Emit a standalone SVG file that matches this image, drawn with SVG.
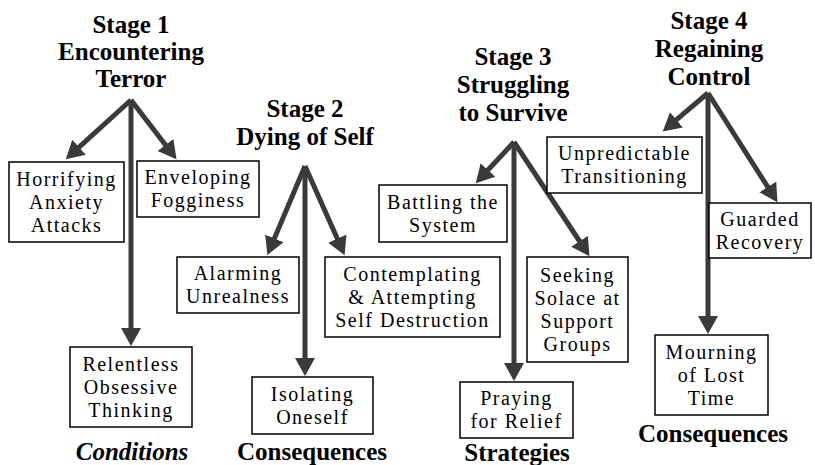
<svg xmlns="http://www.w3.org/2000/svg" width="815" height="465" viewBox="0 0 815 465">
<defs>
<marker id="ah" markerUnits="userSpaceOnUse" markerWidth="20" markerHeight="22" viewBox="0 -11 20 22" refX="1" refY="0" orient="auto">
<path d="M0,-10 L18,0 L0,10 Z" fill="#3a3a3a"/>
</marker>
</defs>
<rect width="815" height="465" fill="#fff"/>
<g id="connectors" stroke="#3a3a3a" stroke-width="5" fill="none">
<line x1="131" y1="100" x2="78.3" y2="147.9" marker-end="url(#ah)"/>
<line x1="131" y1="100" x2="166.1" y2="145.7" marker-end="url(#ah)"/>
<line x1="131" y1="100" x2="131" y2="329" marker-end="url(#ah)"/>
<line x1="305" y1="166" x2="274" y2="239.4" marker-end="url(#ah)"/>
<line x1="305" y1="166" x2="337.7" y2="239.6" marker-end="url(#ah)"/>
<line x1="305" y1="166" x2="305" y2="359" marker-end="url(#ah)"/>
<line x1="514" y1="142" x2="487.3" y2="170.8" marker-end="url(#ah)"/>
<line x1="514" y1="142" x2="580.1" y2="242" marker-end="url(#ah)"/>
<line x1="514" y1="142" x2="514" y2="364" marker-end="url(#ah)"/>
<line x1="708" y1="93" x2="675.7" y2="120.4" marker-end="url(#ah)"/>
<line x1="708" y1="93" x2="768.3" y2="187.8" marker-end="url(#ah)"/>
<line x1="708" y1="93" x2="708" y2="317" marker-end="url(#ah)"/>
</g>
<g id="stage1">
<text font-family="Times New Roman, Liberation Serif, serif" font-size="25" font-weight="bold" text-anchor="middle" x="131" y="33">Stage 1</text>
<text font-family="Times New Roman, Liberation Serif, serif" font-size="25" font-weight="bold" text-anchor="middle" x="131" y="60">Encountering</text>
<text font-family="Times New Roman, Liberation Serif, serif" font-size="25" font-weight="bold" text-anchor="middle" x="131" y="87">Terror</text>
</g>
<g id="horrifying">
<rect x="9" y="162" width="115" height="80" fill="#fff" stroke="#000" stroke-width="1.5"/>
<text font-family="Times New Roman, Liberation Serif, serif" font-size="20" letter-spacing="1.5" text-anchor="middle" x="66.5" y="185.5">Horrifying</text>
<text font-family="Times New Roman, Liberation Serif, serif" font-size="20" letter-spacing="1.5" text-anchor="middle" x="66.5" y="208.5">Anxiety</text>
<text font-family="Times New Roman, Liberation Serif, serif" font-size="20" letter-spacing="1.5" text-anchor="middle" x="66.5" y="231.5">Attacks</text>
</g>
<g id="enveloping">
<rect x="137" y="161" width="122" height="56" fill="#fff" stroke="#000" stroke-width="1.5"/>
<text font-family="Times New Roman, Liberation Serif, serif" font-size="20" letter-spacing="1.5" text-anchor="middle" x="198" y="184">Enveloping</text>
<text font-family="Times New Roman, Liberation Serif, serif" font-size="20" letter-spacing="1.5" text-anchor="middle" x="198" y="207">Fogginess</text>
</g>
<g id="relentless">
<rect x="70" y="347" width="122" height="80" fill="#fff" stroke="#000" stroke-width="1.5"/>
<text font-family="Times New Roman, Liberation Serif, serif" font-size="20" letter-spacing="1.5" text-anchor="middle" x="131" y="370.5">Relentless</text>
<text font-family="Times New Roman, Liberation Serif, serif" font-size="20" letter-spacing="1.5" text-anchor="middle" x="131" y="393.5">Obsessive</text>
<text font-family="Times New Roman, Liberation Serif, serif" font-size="20" letter-spacing="1.5" text-anchor="middle" x="131" y="416.5">Thinking</text>
</g>
<g id="conditions">
<text font-family="Times New Roman, Liberation Serif, serif" font-size="25" font-weight="bold" font-style="italic" text-anchor="middle" x="132" y="460">Conditions</text>
</g>
<g id="stage2">
<text font-family="Times New Roman, Liberation Serif, serif" font-size="25" font-weight="bold" text-anchor="middle" x="305" y="117">Stage 2</text>
<text font-family="Times New Roman, Liberation Serif, serif" font-size="25" font-weight="bold" text-anchor="middle" x="305" y="145">Dying of Self</text>
</g>
<g id="alarming">
<rect x="177" y="257" width="122" height="56" fill="#fff" stroke="#000" stroke-width="1.5"/>
<text font-family="Times New Roman, Liberation Serif, serif" font-size="20" letter-spacing="1.5" text-anchor="middle" x="238" y="280">Alarming</text>
<text font-family="Times New Roman, Liberation Serif, serif" font-size="20" letter-spacing="1.5" text-anchor="middle" x="238" y="303">Unrealness</text>
</g>
<g id="contemplating">
<rect x="325" y="257" width="175" height="80" fill="#fff" stroke="#000" stroke-width="1.5"/>
<text font-family="Times New Roman, Liberation Serif, serif" font-size="20" letter-spacing="1.5" text-anchor="middle" x="412.5" y="280.5">Contemplating</text>
<text font-family="Times New Roman, Liberation Serif, serif" font-size="20" letter-spacing="1.5" text-anchor="middle" x="412.5" y="303.5">&amp; Attempting</text>
<text font-family="Times New Roman, Liberation Serif, serif" font-size="20" letter-spacing="1.5" text-anchor="middle" x="412.5" y="326.5">Self Destruction</text>
</g>
<g id="isolating">
<rect x="252" y="377" width="121" height="57" fill="#fff" stroke="#000" stroke-width="1.5"/>
<text font-family="Times New Roman, Liberation Serif, serif" font-size="20" letter-spacing="1.5" text-anchor="middle" x="312.5" y="400.5">Isolating</text>
<text font-family="Times New Roman, Liberation Serif, serif" font-size="20" letter-spacing="1.5" text-anchor="middle" x="312.5" y="423.5">Oneself</text>
</g>
<g id="consequences2">
<text font-family="Times New Roman, Liberation Serif, serif" font-size="25" font-weight="bold" text-anchor="middle" x="312" y="460">Consequences</text>
</g>
<g id="stage3">
<text font-family="Times New Roman, Liberation Serif, serif" font-size="25" font-weight="bold" text-anchor="middle" x="513" y="65">Stage 3</text>
<text font-family="Times New Roman, Liberation Serif, serif" font-size="25" font-weight="bold" text-anchor="middle" x="513" y="93">Struggling</text>
<text font-family="Times New Roman, Liberation Serif, serif" font-size="25" font-weight="bold" text-anchor="middle" x="513" y="121">to Survive</text>
</g>
<g id="battling">
<rect x="379" y="185" width="128" height="57" fill="#fff" stroke="#000" stroke-width="1.5"/>
<text font-family="Times New Roman, Liberation Serif, serif" font-size="20" letter-spacing="1.5" text-anchor="middle" x="443" y="208.5">Battling the</text>
<text font-family="Times New Roman, Liberation Serif, serif" font-size="20" letter-spacing="1.5" text-anchor="middle" x="443" y="231.5">System</text>
</g>
<g id="seeking">
<rect x="527" y="257" width="101" height="105" fill="#fff" stroke="#000" stroke-width="1.5"/>
<text font-family="Times New Roman, Liberation Serif, serif" font-size="20" letter-spacing="1.5" text-anchor="middle" x="577.5" y="281.5">Seeking</text>
<text font-family="Times New Roman, Liberation Serif, serif" font-size="20" letter-spacing="1.5" text-anchor="middle" x="577.5" y="304.5">Solace at</text>
<text font-family="Times New Roman, Liberation Serif, serif" font-size="20" letter-spacing="1.5" text-anchor="middle" x="577.5" y="327.5">Support</text>
<text font-family="Times New Roman, Liberation Serif, serif" font-size="20" letter-spacing="1.5" text-anchor="middle" x="577.5" y="350.5">Groups</text>
</g>
<g id="praying">
<rect x="460" y="382" width="113" height="56" fill="#fff" stroke="#000" stroke-width="1.5"/>
<text font-family="Times New Roman, Liberation Serif, serif" font-size="20" letter-spacing="1.5" text-anchor="middle" x="516.5" y="405">Praying</text>
<text font-family="Times New Roman, Liberation Serif, serif" font-size="20" letter-spacing="1.5" text-anchor="middle" x="516.5" y="428">for Relief</text>
</g>
<g id="strategies">
<text font-family="Times New Roman, Liberation Serif, serif" font-size="25" font-weight="bold" text-anchor="middle" x="517" y="461">Strategies</text>
</g>
<g id="stage4">
<text font-family="Times New Roman, Liberation Serif, serif" font-size="25" font-weight="bold" text-anchor="middle" x="709" y="29">Stage 4</text>
<text font-family="Times New Roman, Liberation Serif, serif" font-size="25" font-weight="bold" text-anchor="middle" x="709" y="57">Regaining</text>
<text font-family="Times New Roman, Liberation Serif, serif" font-size="25" font-weight="bold" text-anchor="middle" x="709" y="85">Control</text>
</g>
<g id="unpredictable">
<rect x="547" y="137" width="155" height="56" fill="#fff" stroke="#000" stroke-width="1.5"/>
<text font-family="Times New Roman, Liberation Serif, serif" font-size="20" letter-spacing="1.5" text-anchor="middle" x="624.5" y="160">Unpredictable</text>
<text font-family="Times New Roman, Liberation Serif, serif" font-size="20" letter-spacing="1.5" text-anchor="middle" x="624.5" y="183">Transitioning</text>
</g>
<g id="guarded">
<rect x="709" y="203" width="102" height="55" fill="#fff" stroke="#000" stroke-width="1.5"/>
<text font-family="Times New Roman, Liberation Serif, serif" font-size="20" letter-spacing="1.5" text-anchor="middle" x="760" y="226">Guarded</text>
<text font-family="Times New Roman, Liberation Serif, serif" font-size="20" letter-spacing="1.5" text-anchor="middle" x="760" y="249">Recovery</text>
</g>
<g id="mourning">
<rect x="655" y="335" width="113" height="80" fill="#fff" stroke="#000" stroke-width="1.5"/>
<text font-family="Times New Roman, Liberation Serif, serif" font-size="20" letter-spacing="1.5" text-anchor="middle" x="711.5" y="358.5">Mourning</text>
<text font-family="Times New Roman, Liberation Serif, serif" font-size="20" letter-spacing="1.5" text-anchor="middle" x="711.5" y="381.5">of Lost</text>
<text font-family="Times New Roman, Liberation Serif, serif" font-size="20" letter-spacing="1.5" text-anchor="middle" x="711.5" y="404.5">Time</text>
</g>
<g id="consequences4">
<text font-family="Times New Roman, Liberation Serif, serif" font-size="25" font-weight="bold" text-anchor="middle" x="713" y="442">Consequences</text>
</g>
</svg>
